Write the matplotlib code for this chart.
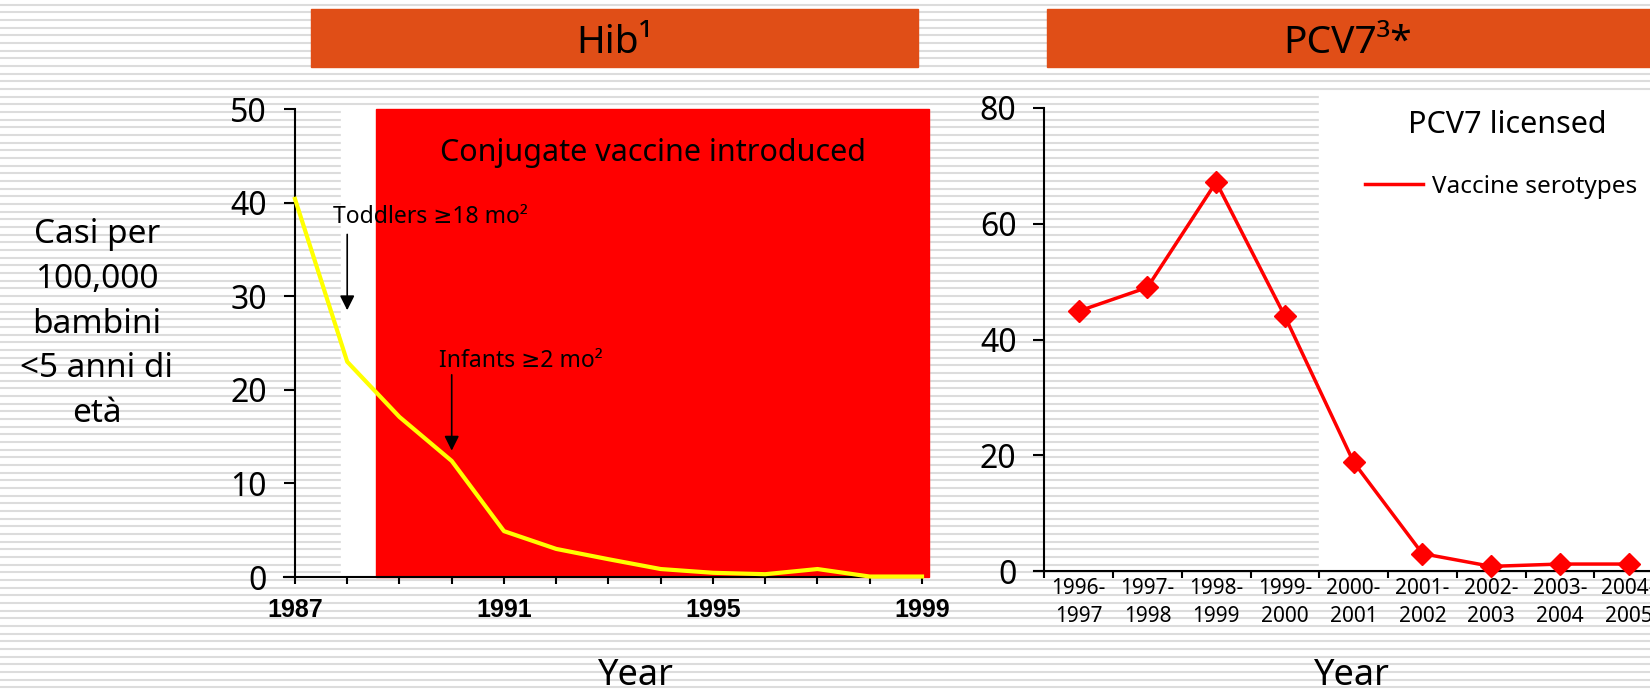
import numpy as np
import matplotlib
matplotlib.use("Agg")
import matplotlib.pyplot as plt
from matplotlib.patches import Rectangle

plt.rcParams['font.family'] = ['Noto Sans', 'DejaVu Sans']

# dati Hib (casi per 100,000 bambini <5 anni)
hib_years = [1987, 1988, 1989, 1990, 1991, 1992, 1993, 1994, 1995, 1996, 1997, 1998, 1999]
hib_cases = [40.4, 23.0, 17.1, 12.4, 4.9, 3.0, 1.9, 0.85, 0.45, 0.3, 0.85, 0.05, 0.05]
hib_labeled = [1987, 1991, 1995, 1999]
conj_start = 1988.55
conj_end = 1999.13
white_start = 1987.88

# dati PCV7
pcv_seasons = ["1996-\n1997", "1997-\n1998", "1998-\n1999", "1999-\n2000", "2000-\n2001",
               "2001-\n2002", "2002-\n2003", "2003-\n2004", "2004-\n2005"]
pcv_vaccine = [44.9, 49.0, 67.2, 44.0, 18.8, 3.0, 0.8, 1.2, 1.2]
pcv_licensed = 3.5

W, H = 1650, 692
fig = plt.figure(figsize=(W / 100, H / 100), dpi=100)

def px_axes(x0, y0, x1, y1, **kw):
    return fig.add_axes([x0 / W, 1 - y1 / H, (x1 - x0) / W, (y1 - y0) / H], **kw)

# sfondo a righe
bg = fig.add_axes([0, 0, 1, 1], zorder=-10)
bg.set_xlim(0, W)
bg.set_ylim(H, 0)
bg.axis("off")
bg.hlines(np.arange(4.7, H, 7.67), 0, W, color="#dcdcdc", lw=1.5, zorder=1)
orange = "#E04E17"
bg.add_patch(Rectangle((311, 9), 607, 58, color=orange, zorder=3))
bg.add_patch(Rectangle((1047, 9), 603, 58, color=orange, zorder=3))
bg.text(614, 53, "Hib¹", ha="center", va="baseline", fontsize=28, zorder=4)
bg.text(1348, 53, "PCV7³*", ha="center", va="baseline", fontsize=28, zorder=4)

fig.text(97 / W, 1 - 324 / H, "Casi per\n100,000\nbambini\n<5 anni di\netà",
         ha="center", va="center", fontsize=24, linespacing=1.47)

# --- Hib ---
ax = px_axes(284.5, 109, 922, 577, zorder=1)
ax.set_facecolor("none")
ax.set_xlim(1986.8, 1999)
ax.set_ylim(0, 50)
ax.axvspan(white_start, conj_end, ymin=0, ymax=50.3 / 50, color="white", clip_on=False, zorder=0)
ax.axvspan(conj_start, conj_end, ymin=0, ymax=1, color="#ff0000", clip_on=False, zorder=0.5)
ax.plot(hib_years, hib_cases, color="#ffff00", lw=3, zorder=3, clip_on=False)

for s in ["top", "right"]:
    ax.spines[s].set_visible(False)
ax.spines["left"].set_position(("data", 1987))
for s in ["left", "bottom"]:
    ax.spines[s].set_linewidth(1.5)
ax.set_yticks(range(0, 51, 10))
ax.set_xticks(hib_years)
ax.set_xticklabels([str(y) if y in hib_labeled else "" for y in hib_years],
                   fontweight="bold", fontsize=18, family=["Liberation Sans", "DejaVu Sans"])
ax.tick_params(axis="y", labelsize=23, length=8, width=1.5, pad=12)
ax.tick_params(axis="x", length=5, width=1.5, pad=10)

ax.text(1993.85, 44.4, "Conjugate vaccine introduced", ha="center", va="baseline", fontsize=22)
ax.annotate("", xy=(1988, 28.5), xytext=(1988, 36.6),
            arrowprops=dict(arrowstyle="-|>", color="black", lw=1.2, mutation_scale=22,
                            shrinkA=0, shrinkB=0))
ax.text(1987.73, 37.8, "Toddlers ≥18 mo²", ha="left", va="baseline", fontsize=16.5, zorder=4)
ax.annotate("", xy=(1990, 13.5), xytext=(1990, 21.6),
            arrowprops=dict(arrowstyle="-|>", color="black", lw=1.2, mutation_scale=22,
                            shrinkA=0, shrinkB=0))
ax.text(1989.75, 22.4, "Infants ≥2 mo²", ha="left", va="baseline", fontsize=16.5, zorder=4)
ax.set_xlabel("Year", fontsize=26)
ax.xaxis.set_label_coords((636 - 284.5) / (922 - 284.5), (577 - 676) / (577 - 109))
ax.xaxis.label.set_va("center")

# --- PCV7 ---
ax2 = px_axes(1034, 108, 1663, 571, zorder=1)
ax2.set_facecolor("none")
ax2.set_xlim(-0.65, 8.5)
ax2.set_ylim(0, 80)
ax2.axvspan(pcv_licensed, 9.0, ymin=0, ymax=82.7 / 80, color="white", clip_on=False, zorder=0)
ax2.plot(range(len(pcv_vaccine)), pcv_vaccine, color="#ff0000", lw=2.5, marker="D", ms=11,
         clip_on=False, zorder=3, label="Vaccine serotypes")
for s in ["top", "right"]:
    ax2.spines[s].set_visible(False)
ax2.spines["left"].set_position(("data", -0.5))
for s in ["left", "bottom"]:
    ax2.spines[s].set_linewidth(1.5)
ax2.set_yticks(range(0, 81, 20))
ax2.set_xticks(range(len(pcv_seasons)))
ax2.set_xticklabels(pcv_seasons, fontsize=15, linespacing=1.45)
ax2.set_xticks(np.arange(-0.5, len(pcv_seasons), 1), minor=True)
ax2.tick_params(axis="x", which="major", length=0, pad=5)
ax2.tick_params(axis="x", which="minor", length=5, width=1.5)
ax2.tick_params(axis="y", labelsize=23, length=8, width=1.5, pad=12)
ax2.set_xlabel("Year", fontsize=26)
ax2.xaxis.set_label_coords((1352 - 1034) / (1663 - 1034), (571 - 676) / (571 - 108))
ax2.xaxis.label.set_va("center")

ax2.text(1507 / W, 1 - 125 / H, "PCV7 licensed", transform=fig.transFigure,
         ha="center", va="center", fontsize=22)
leg = ax2.legend(loc="center left", bbox_to_anchor=(1365 / W, 1 - 187 / H),
                 bbox_transform=fig.transFigure, frameon=False, fontsize=17.5,
                 handlelength=2.4, handletextpad=0.35, borderpad=0, borderaxespad=0)
leg.get_lines()[0].set_marker("")

fig.savefig("out.png", dpi=100)
